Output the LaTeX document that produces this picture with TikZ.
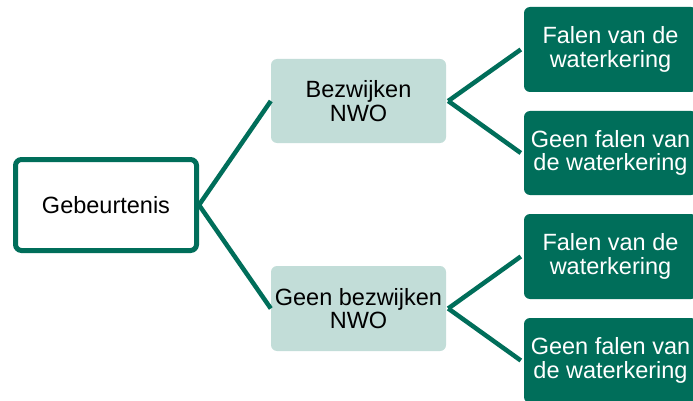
\documentclass[tikz,border=0pt]{standalone}
\usepackage{fontspec}
\setmainfont{Liberation Sans}
\definecolor{dgreen}{HTML}{006E5A}
\definecolor{lgreen}{HTML}{C2DDD8}
\begin{document}
\begin{tikzpicture}[x=1pt,y=-1pt,
  base/.style={rectangle, rounded corners=6pt, inner sep=0pt, align=center,
    font=\fontsize{23.5}{23.5}\selectfont},
  rootbox/.style={base, draw=dgreen, line width=5pt, fill=white,
    minimum width=181pt, minimum height=91pt, text=black},
  midbox/.style={base, fill=lgreen, minimum width=175pt, minimum height=84pt, text=black},
  leafbox/.style={base, fill=dgreen, minimum width=173pt, minimum height=85pt, text=white},
  link/.style={draw=dgreen, line width=4.5pt}]
\clip (0,0) rectangle (693,401);
\fill[white] (0,0) rectangle (693,401);
\node[rootbox] (root) at (106,205) {Gebeurtenis};
\node[midbox] (bez) at (358.5,101) {Bezwijken\\NWO};
\node[midbox, minimum height=85pt] (geen) at (358.5,308.5) {Geen bezwijken\\NWO};
\node[leafbox] (f1) at (610.5,49.5) {Falen van de\\waterkering};
\node[leafbox, minimum height=84pt] (f2) at (610.5,153) {Geen falen van\\de waterkering};
\node[leafbox] (f3) at (610.5,256.5) {Falen van de\\waterkering};
\node[leafbox] (f4) at (610.5,360.5) {Geen falen van\\de waterkering};
\draw[link] (root.east) -- (bez.west);
\draw[link] (root.east) -- (geen.west);
\draw[link] ([xshift=2pt]bez.east) -- ([xshift=-3pt]f1.west);
\draw[link] ([xshift=2pt]bez.east) -- ([xshift=-3pt]f2.west);
\draw[link] ([xshift=2pt]geen.east) -- ([xshift=-3pt]f3.west);
\draw[link] ([xshift=2pt]geen.east) -- ([xshift=-3pt]f4.west);
\end{tikzpicture}
\end{document}
